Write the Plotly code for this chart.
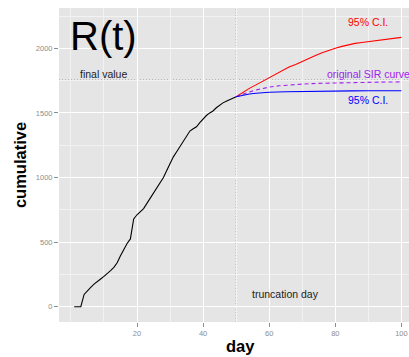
import plotly.graph_objects as go

# observed cumulative counts (days 1..50)
obs_day = list(range(1, 51))
obs_cum = [0, 0, 0, 95, 125, 150, 175, 198, 215, 235,
           255, 280, 305, 340, 395, 445, 490, 525, 680, 712,
           740, 760, 800, 840, 880, 920, 960, 1000, 1055, 1110,
           1160, 1200, 1240, 1275, 1310, 1360, 1377, 1393, 1425, 1455,
           1480, 1500, 1515, 1540, 1560, 1578, 1590, 1603, 1614, 1625]

# upper 95% C.I. projection
upper_day = [50, 52, 54, 56, 58, 60, 62, 64, 66, 68, 70, 72, 74, 76, 78,
             80, 82, 84, 86, 88, 90, 92, 94, 96, 98, 100]
upper_ci = [1625, 1660, 1690, 1717, 1745, 1775, 1800, 1830, 1855, 1875,
            1900, 1920, 1945, 1965, 1985, 2000, 2015, 2028, 2038, 2045,
            2052, 2058, 2063, 2070, 2077, 2085]

# lower 95% C.I. projection
lower_day = [50, 52, 54, 56, 58, 60, 65, 70, 75, 80, 85, 90, 95, 100]
lower_ci = [1625, 1637, 1646, 1652, 1657, 1660, 1664, 1667, 1669, 1670,
            1671, 1672, 1672, 1672]

# original SIR curve
sir_day = [50, 52, 54, 56, 58, 60, 63, 66, 70, 75, 80, 85, 90, 95, 100]
sir_curve = [1625, 1645, 1662, 1677, 1690, 1700, 1710, 1717, 1723, 1729,
             1733, 1736, 1738, 1739, 1740]

final_value = 1755
truncation_day = 50

x_ticks = [20, 40, 60, 80, 100]
x_minor = [0, 10, 30, 50, 70, 90]
y_ticks = [0, 500, 1000, 1500, 2000]
y_minor = [250, 750, 1250, 1750, 2250]

FONT = "Liberation Sans, Arial, Helvetica, sans-serif"

fig = go.Figure()

fig.add_trace(go.Scatter(x=upper_day, y=upper_ci, mode="lines",
                         line=dict(color="#FF0000", width=1.1), showlegend=False))
fig.add_trace(go.Scatter(x=sir_day, y=sir_curve, mode="lines",
                         line=dict(color="#A020F0", width=1.1, dash="4px,3px"), showlegend=False))
fig.add_trace(go.Scatter(x=lower_day, y=lower_ci, mode="lines",
                         line=dict(color="#0000FF", width=1.1), showlegend=False))
fig.add_trace(go.Scatter(x=obs_day, y=obs_cum, mode="lines",
                         line=dict(color="#000000", width=1.1), showlegend=False))

fig.add_shape(type="line", xref="paper", yref="y", x0=0, x1=1, y0=final_value, y1=final_value,
              line=dict(color="#8C8C8C", width=1, dash="1px,2px"), layer="between")
fig.add_shape(type="line", xref="x", yref="paper", x0=truncation_day, x1=truncation_day, y0=0, y1=1,
              line=dict(color="#8C8C8C", width=1, dash="1px,2px"), layer="between")

annots = [
    dict(x=10, y=2095, text="R(t)", font=dict(size=40, color="#000000")),
    dict(x=10, y=1800, text="final value", font=dict(size=10.5, color="#222222")),
    dict(x=65, y=100, text="truncation day", font=dict(size=10.5, color="#222222")),
    dict(x=90, y=2200, text="95% C.I.", font=dict(size=10.5, color="#FF0000")),
    dict(x=90, y=1600, text="95% C.I.", font=dict(size=10.5, color="#0000FF")),
    dict(x=90, y=1800, text="original SIR curve", font=dict(size=10.5, color="#A020F0")),
]
for a in annots:
    fig.add_annotation(xref="x", yref="y", showarrow=False, xanchor="center", yanchor="middle",
                       x=a["x"], y=a["y"], text=a["text"], font=dict(family=FONT, **a["font"]))

fig.add_annotation(xref="paper", yref="paper", x=(240 - 59) / 350, y=-(346 - 322) / 314,
                   text="<b>day</b>", showarrow=False, xanchor="center", yanchor="middle",
                   font=dict(family=FONT, size=16.5, color="#000000"))

fig.update_layout(
    width=409, height=357,
    margin=dict(l=59, r=0, t=8, b=35),
    paper_bgcolor="#FFFFFF",
    plot_bgcolor="#E5E5E5",
    font=dict(family=FONT),
    xaxis=dict(range=[-3.6, 102.3], tickmode="array", tickvals=x_ticks,
               showgrid=True, gridcolor="#FFFFFF", gridwidth=1, zeroline=False,
               ticks="outside", ticklen=4, tickcolor="#8C8C8C", tickwidth=1,
               tickfont=dict(size=7.5, color="#8C8C8C"), showline=False,
               minor=dict(tickmode="array", tickvals=x_minor, showgrid=True,
                          gridcolor="#F2F2F2", gridwidth=0.6, ticks="")),
    yaxis=dict(range=[-118, 2312], tickmode="array", tickvals=y_ticks,
               showgrid=True, gridcolor="#FFFFFF", gridwidth=1, zeroline=False,
               ticks="outside", ticklen=4, tickcolor="#8C8C8C", tickwidth=1,
               tickfont=dict(size=7.5, color="#8C8C8C"), showline=False,
               title=dict(text="<b>cumulative</b>", font=dict(size=16.5, color="#000000"), standoff=5),
               minor=dict(tickmode="array", tickvals=y_minor, showgrid=True,
                          gridcolor="#F2F2F2", gridwidth=0.6, ticks="")),
)

fig.write_html("out.html")
